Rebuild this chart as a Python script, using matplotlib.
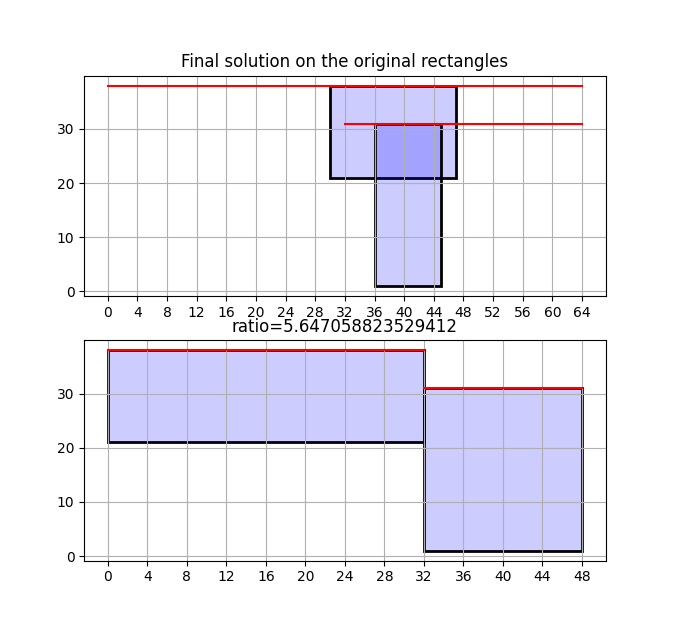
import matplotlib
matplotlib.use("Agg")
from matplotlib import pyplot as plt
from matplotlib.patches import Rectangle

# original rectangles: (x, y, width, height)
orig_rects = [(30, 21, 17, 17), (36, 1, 9, 30)]
# top lines on the original plot: (x_start, x_end, y)
orig_lines = [(0, 64, 38), (32, 64, 31)]

# final packed rectangles
final_rects = [(0, 21, 32, 17), (32, 1, 16, 30)]
final_lines = [(0, 32, 38), (32, 48, 31)]

ratio = 96 / 17


def draw(ax, rects, lines, xmax):
    for x, y, w, h in rects:
        ax.add_patch(Rectangle((x, y), w, h, facecolor=(0, 0, 1, 0.2),
                               edgecolor="black", linewidth=2))
    for x0, x1, y in lines:
        ax.plot([x0, x1], [y, y], color="red")
    ax.set_xticks(range(0, xmax + 1, 4))
    ax.grid(True)


fig = plt.figure(figsize=(6.73, 6.3), dpi=100)
ax1 = fig.add_subplot(2, 1, 1)
draw(ax1, orig_rects, orig_lines, 64)
ax1.set_title("Final solution on the original rectangles")

ax2 = fig.add_subplot(2, 1, 2)
draw(ax2, final_rects, final_lines, 48)
ax2.set_title(f"ratio={ratio}")

fig.savefig("out.png")
